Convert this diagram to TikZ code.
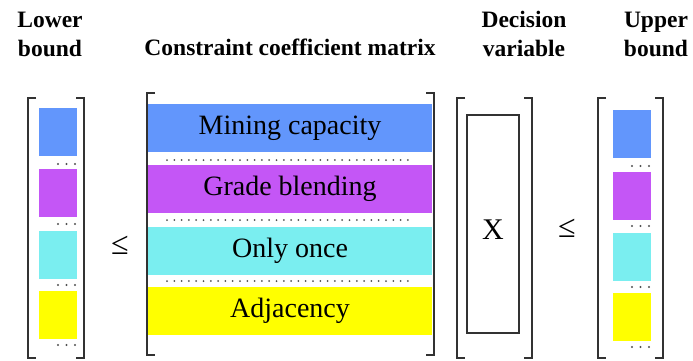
\documentclass[tikz,border=0pt]{standalone}
\usepackage{fontspec}
\setmainfont{Liberation Serif}
\usetikzlibrary{positioning}
\definecolor{RowBlue}{RGB}{98, 150, 252}
\definecolor{RowPurple}{RGB}{196, 86, 246}
\definecolor{RowCyan}{RGB}{122, 238, 240}
\definecolor{RowYellow}{RGB}{255, 255, 0}
\definecolor{BracketGrey}{RGB}{50, 50, 50}
\definecolor{DotGrey}{RGB}{80, 80, 80}

\tikzset{
    brk/.style={BracketGrey, line width=2.2pt},
    row/.style={minimum width=284pt, minimum height=48pt, inner sep=0pt, font=\fontsize{28}{32}\selectfont},
    cell/.style={minimum width=38pt, minimum height=48pt, inner sep=0pt},
    rowdots/.style={DotGrey, line width=2pt, line cap=round, dash pattern=on 0pt off 7.3pt},
    celldots/.style={DotGrey, line width=2.2pt, line cap=round, dash pattern=on 0pt off 8.5pt},
    head/.style={align=center, font=\fontsize{23.5}{29}\selectfont\bfseries},
    rel/.style={font=\fontsize{32}{32}\selectfont}
}

\begin{document}
\begin{tikzpicture}[x=1pt, y=-1pt]
    \useasboundingbox (0,0) rectangle (693,360);

    % Titulos
    \node[head] (lbhead) at (50,34) {Lower\\bound};
    \node[head, anchor=base] (mathead) at (290,55) {Constraint coefficient matrix};
    \node[head] (dvhead) at (524,34) {Decision\\variable};
    \node[head] (ubhead) at (656,34) {Upper\\bound};

    % Cota inferior
    \begin{scope}
        \draw[brk] (36,98) -- (28,98) -- (28,358) -- (36,358);
        \draw[brk] (76,98) -- (84,98) -- (84,358) -- (76,358);
        \node[cell, fill=RowBlue] (lb1) at (58,132) {};
        \node[cell, fill=RowPurple] (lb2) at (58,193) {};
        \node[cell, fill=RowCyan] (lb3) at (58,254.5) {};
        \node[cell, fill=RowYellow] (lb4) at (58,314.5) {};
        \draw[celldots] (58,164) -- (77,164);
        \draw[celldots] (58,224) -- (77,224);
        \draw[celldots] (58,285) -- (77,285);
        \draw[celldots] (58,345) -- (77,345);
    \end{scope}

    \node[rel] (leq1) at (120,245) {≤};

    % Matriz de coeficientes
    \begin{scope}
        \draw[brk] (155,93) -- (147,93) -- (147,355) -- (155,355);
        \draw[brk] (426,93) -- (434,93) -- (434,355) -- (426,355);
        \node[row, fill=RowBlue] (cap) at (290,128) {Mining capacity};
        \node[row, fill=RowPurple] (grade) at (290,189) {Grade blending};
        \node[row, fill=RowCyan] (once) at (290,250.5) {Only once};
        \node[row, fill=RowYellow] (adj) at (290,310.5) {Adjacency};
        \draw[rowdots] (167,160) -- (411,160);
        \draw[rowdots] (167,220) -- (411,220);
        \draw[rowdots] (167,281) -- (411,281);
    \end{scope}

    % Variable de decision
    \begin{scope}
        \draw[brk] (465,98) -- (457,98) -- (457,358) -- (465,358);
        \draw[brk] (524,98) -- (532,98) -- (532,358) -- (524,358);
        \node[draw=BracketGrey, line width=1.6pt, minimum width=52pt, minimum height=218pt, inner sep=0pt] (xbox) at (493,224) {};
        \node[font=\fontsize{30}{30}\selectfont] (xvar) at ([yshift=-6pt]xbox.center) {X};
    \end{scope}

    \node[rel] (leq2) at (567,228) {≤};

    % Cota superior
    \begin{scope}
        \draw[brk] (606,98) -- (598,98) -- (598,358) -- (606,358);
        \draw[brk] (655,98) -- (663,98) -- (663,358) -- (655,358);
        \node[cell, fill=RowBlue] (ub1) at (631.5,134) {};
        \node[cell, fill=RowPurple] (ub2) at (631.5,195.5) {};
        \node[cell, fill=RowCyan] (ub3) at (631.5,257) {};
        \node[cell, fill=RowYellow] (ub4) at (631.5,316.5) {};
        \draw[celldots] (632,166) -- (651,166);
        \draw[celldots] (632,226) -- (651,226);
        \draw[celldots] (632,287) -- (651,287);
        \draw[celldots] (632,347) -- (651,347);
    \end{scope}
\end{tikzpicture}
\end{document}
